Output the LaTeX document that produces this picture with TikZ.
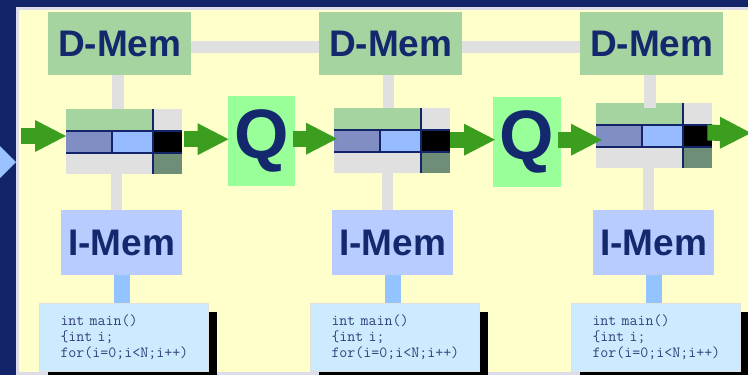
\documentclass[tikz,border=0pt]{standalone}
\usepackage{fontspec}
\newfontfamily\headfont{Liberation Sans}
\usetikzlibrary{arrows.meta,shadows}

\definecolor{bgblue}{RGB}{20,36,104}
\definecolor{stripgray}{RGB}{220,220,234}
\definecolor{paper}{RGB}{255,255,204}
\definecolor{titleblue}{RGB}{20,40,110}
\definecolor{dmemgreen}{RGB}{166,212,160}
\definecolor{qgreen}{RGB}{153,255,153}
\definecolor{imemblue}{RGB}{184,204,255}
\definecolor{codeblue}{RGB}{204,235,255}
\definecolor{codetext}{RGB}{50,64,124}
\definecolor{wiregray}{RGB}{224,224,224}
\definecolor{wireblue}{RGB}{148,196,255}
\definecolor{arrowgreen}{RGB}{60,158,30}
\definecolor{midblue}{RGB}{128,142,196}
\definecolor{paleblue}{RGB}{150,187,255}
\definecolor{slategreen}{RGB}{110,142,120}
\definecolor{trianglblue}{RGB}{153,194,255}

\tikzset{
  dmem/.style={fill=dmemgreen, minimum width=143pt, minimum height=63pt,
    inner sep=0pt, anchor=north west, text=titleblue,
    font=\headfont\bfseries\fontsize{37}{40}\selectfont},
  imem/.style={fill=imemblue, minimum width=121pt, minimum height=65pt,
    inner sep=0pt, anchor=north west, text=titleblue,
    font=\headfont\bfseries\fontsize{37}{40}\selectfont},
  qbox/.style={fill=qgreen, minimum width=67.5pt, minimum height=90pt,
    inner sep=0pt, anchor=north west, text=titleblue,
    font=\headfont\bfseries\fontsize{70}{74}\selectfont},
  regbox/.style={minimum width=116pt, minimum height=65pt, inner sep=0pt,
    anchor=north west},
  codebox/.style={fill=codeblue, draw=wiregray, line width=1pt,
    minimum width=169pt, minimum height=68pt, inner xsep=21pt, inner ysep=0pt,
    text width=127pt, align=left, anchor=north west, text=codetext,
    font=\ttfamily\fontsize{15.5}{16}\selectfont,
    drop shadow={shadow xshift=8.5pt, shadow yshift=-8pt, opacity=1, fill=black}},
  gwire/.style={draw=wiregray, line width=12pt},
  gvwire/.style={draw=wiregray, line width=11.5pt},
  bwire/.style={draw=wireblue, line width=16pt},
  garrow/.style={draw=arrowgreen, line width=16pt,
    -{Triangle[length=31pt,width=32pt,line width=0pt]}},
  regline/.style={draw=bgblue, line width=2.2pt}
}

% cells of a pipeline register, drawn inside the named node
\newcommand{\regcells}[1]{%
  \begin{scope}[shift={(#1.north west)}]
    \fill[dmemgreen] (0,0) rectangle (87,22);
    \fill[wiregray] (87,0) rectangle (116,22);
    \fill[midblue] (0,22) rectangle (46,44);
    \fill[paleblue] (46,22) rectangle (87,44);
    \fill[black] (87,22) rectangle (116,44);
    \fill[wiregray] (0,44) rectangle (87,65);
    \fill[slategreen] (87,44) rectangle (116,65);
    \draw[regline] (0,22) -- (116,22);
    \draw[regline] (0,44) -- (116,44);
    \draw[regline] (87,0) -- (87,65);
    \draw[regline] (46,22) -- (46,44);
  \end{scope}}

\begin{document}
\begin{tikzpicture}[x=1pt,y=-1pt]
\useasboundingbox (0,0) rectangle (748,375);
\clip (0,0) rectangle (748,375);

% frame
\fill[bgblue] (0,0) rectangle (748,375);
\fill[stripgray] (16,7) rectangle (748,375);
\fill[paper] (19,10) rectangle (748,372);
\fill[trianglblue] (0,146) -- (16,162) -- (0,178) -- cycle;

% memories
\node[dmem] (dm1) at (48,12) {D-Mem};
\node[dmem] (dm2) at (319,12) {D-Mem};
\node[dmem] (dm3) at (580,12) {D-Mem};
\node[imem] (im1) at (61,210) {I-Mem};
\node[imem] (im2) at (332,210) {I-Mem};
\node[imem] (im3) at (593,210) {I-Mem};

% queues
\node[qbox] (q1) at (227.5,96) {Q};
\node[qbox] (q2) at (493,97) {Q};

% pipeline registers
\node[regbox] (r1) at (66,109) {};
\node[regbox] (r2) at (334,108) {};
\node[regbox] (r3) at (596,103) {};
\regcells{r1}
\regcells{r2}
\regcells{r3}

% program listings
\node[codebox] (c1) at (39,303) {int main()\\\{int i;\\for(i=0;i<N;i++)};
\node[codebox] (c2) at (310,303) {int main()\\\{int i;\\for(i=0;i<N;i++)};
\node[codebox] (c3) at (571,303) {int main()\\\{int i;\\for(i=0;i<N;i++)};

% data memory chain
\path ([yshift=-3.5pt]dm1.east) coordinate (h1);
\draw[gwire] (h1) -- (h1 -| dm2.west);
\path ([yshift=-3.5pt]dm2.east) coordinate (h2);
\draw[gwire] (h2) -- (h2 -| dm3.west);

% memory to register links
\path ([xshift=-1.5pt]dm1.south) coordinate (v1);
\draw[gvwire] (v1) -- (v1 |- r1.north);
\path ([xshift=-5pt]im1.north) coordinate (v2);
\draw[gvwire] (v2) -- (v2 |- r1.south);
\path ([xshift=-2pt]dm2.south) coordinate (v3);
\draw[gvwire] (v3) -- (v3 |- r2.north);
\path ([xshift=-5pt]im2.north) coordinate (v4);
\draw[gvwire] (v4) -- (v4 |- r2.south);
\path ([xshift=-1.5pt]dm3.south) coordinate (v5);
\draw[gvwire] (v5) -- ([yshift=-5pt]v5 |- r3.north);
\path ([xshift=-5pt]im3.north) coordinate (v6);
\draw[gvwire] (v6) -- (v6 |- r3.south);

% instruction memory to program
\draw[bwire] (im1.south) -- (im1.south |- c1.north);
\draw[bwire] (im2.south) -- (im2.south |- c2.north);
\draw[bwire] (im3.south) -- (im3.south |- c3.north);

% flow arrows
\coordinate (in) at (21,136);
\draw[garrow] (in) -- (in -| r1.west);
\path ([xshift=2pt,yshift=2.5pt]r1.east) coordinate (a2);
\draw[garrow] (a2) -- ([xshift=1pt]a2 -| q1.west);
\path ([xshift=-2pt,yshift=2.5pt]q1.east) coordinate (a3);
\draw[garrow] (a3) -- ([xshift=3pt]a3 -| r2.west);
\path ([yshift=1pt]r2.east) coordinate (a4);
\draw[garrow] (a4) -- ([xshift=2pt]a4 -| q2.west);
\path ([xshift=-3pt,yshift=2.5pt]q2.east) coordinate (a5);
\draw[garrow] (a5) -- ([xshift=6pt]a5 -| r3.west);
\path ([xshift=-5pt,yshift=3pt]r3.east) coordinate (a6);
\coordinate (out) at (751,133);
\draw[garrow] (a6) -- (out);
\end{tikzpicture}
\end{document}
